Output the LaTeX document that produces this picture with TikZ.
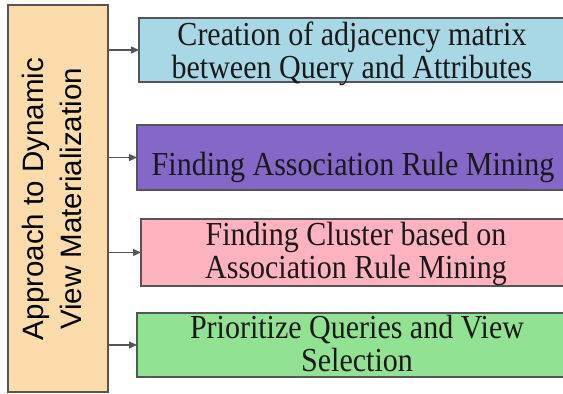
\documentclass[tikz,border=0pt]{standalone}
\usepackage{fontspec}
\setmainfont{Liberation Serif}
\newfontfamily\lsans{Liberation Sans}
\usetikzlibrary{arrows.meta}
\definecolor{bordc}{HTML}{555555}
\definecolor{peach}{HTML}{FDDCAC}
\definecolor{lblue}{HTML}{A8D8E6}
\definecolor{lpurple}{HTML}{8467C7}
\definecolor{lpink}{HTML}{FFB3BF}
\definecolor{lgreen}{HTML}{92E293}
\setlength{\tabcolsep}{0pt}
\newcommand{\boxtxt}[1]{\scalebox{1}[1.12]{\fontsize{30}{29}\selectfont\begin{tabular}[t]{c}#1\end{tabular}}}
\begin{document}
\begin{tikzpicture}[x=1pt,y=-1pt,
  frame/.style={draw=bordc,line width=1.3pt,inner sep=0pt,outer sep=0pt,rectangle},
  txt/.style={anchor=base,inner sep=0pt,text=black!90},
  link/.style={draw=bordc,line width=1.3pt,-{Triangle[length=8pt,width=7pt]}}]
\clip (0,0) rectangle (563,394);
\fill[white] (0,0) rectangle (563,394);
\node[frame,fill=peach,minimum width=100pt,minimum height=387pt] (L) at (58,198.5) {};
\node[anchor=base,inner sep=0pt,rotate=90,font=\lsans\fontsize{29.5}{38.5}\selectfont] (Lt) at (43.5,199)
  {\begin{tabular}[t]{c}Approach to Dynamic\\View Materialization\end{tabular}};
\node[frame,fill=lblue,minimum width=427pt,minimum height=64pt] (b1) at (352.5,50) {};
\node[frame,fill=lpurple,minimum width=429pt,minimum height=65pt] (b2) at (351.5,157.5) {};
\node[frame,fill=lpink,minimum width=425pt,minimum height=67pt] (b3) at (353.5,252.5) {};
\node[frame,fill=lgreen,minimum width=429pt,minimum height=64pt] (b4) at (351.5,345) {};
\node[txt] (t1) at (352,45) {\boxtxt{Creation of adjacency matrix\\between Query and Attributes}};
\node[txt] (t2) at (353,175) {\boxtxt{Finding Association Rule Mining}};
\node[txt] (t3) at (356,245) {\boxtxt{Finding Cluster based on\\Association Rule Mining}};
\node[txt] (t4) at (357,338) {\boxtxt{Prioritize Queries and View\\Selection}};
\foreach \b in {b1,b2,b3,b4}
  \draw[link] (\b.west -| L.east) -- (\b.west);
\end{tikzpicture}
\end{document}
